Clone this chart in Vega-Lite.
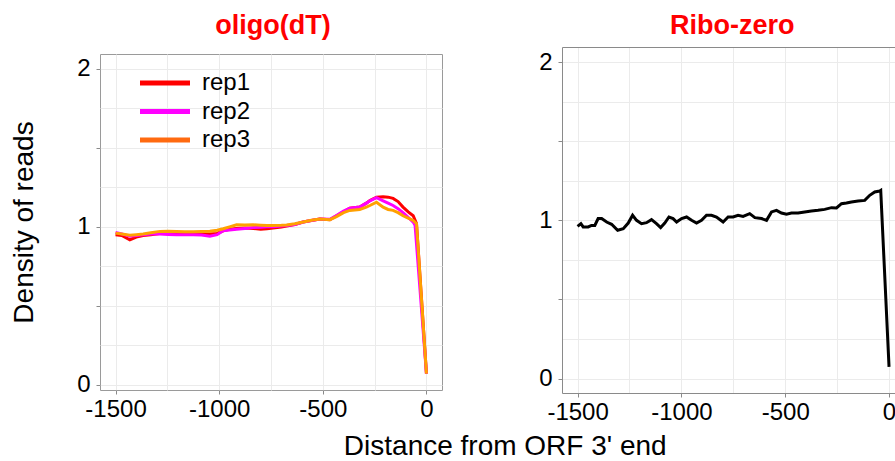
{
  "$schema": "https://vega.github.io/schema/vega-lite/v6.json",
  "background": "white",
  "padding": {"left": 10, "top": 12, "right": 0, "bottom": 0},
  "config": {
    "font": "Liberation Sans",
    "view": {"stroke": "#9a9a9a"},
    "axis": {
      "labelFont": "Liberation Sans", "labelFontSize": 24, "labelColor": "black",
      "tickColor": "#8a8a8a", "tickSize": 4, "domain": false,
      "gridColor": "#ebebeb", "gridWidth": 1, "labelPadding": 6,
      "titleFont": "Liberation Sans", "titleFontSize": 28, "titleFontWeight": "normal", "titleColor": "black"
    },
    "axisX": {"labelPadding": 3},
    "title": {"font": "Liberation Sans", "fontSize": 27, "fontWeight": "bold", "color": "#ff0000", "anchor": "middle"}
  },
  "title": {"text": "Distance from ORF 3' end", "orient": "bottom", "anchor": "middle", "fontSize": 28, "fontWeight": "normal", "color": "black", "offset": 9, "dx": 52},
  "spacing": 95,
  "datasets": {
    "oligo": [
      {"rep": "rep1", "x": -1500, "y": 0.950}, {"rep": "rep1", "x": -1470, "y": 0.945}, {"rep": "rep1", "x": -1431, "y": 0.918}, {"rep": "rep1", "x": -1400, "y": 0.935},
      {"rep": "rep1", "x": -1367, "y": 0.945}, {"rep": "rep1", "x": -1330, "y": 0.950}, {"rep": "rep1", "x": -1286, "y": 0.958}, {"rep": "rep1", "x": -1246, "y": 0.960},
      {"rep": "rep1", "x": -1206, "y": 0.958}, {"rep": "rep1", "x": -1166, "y": 0.955}, {"rep": "rep1", "x": -1126, "y": 0.958}, {"rep": "rep1", "x": -1085, "y": 0.955},
      {"rep": "rep1", "x": -1045, "y": 0.955}, {"rep": "rep1", "x": -1010, "y": 0.958}, {"rep": "rep1", "x": -981, "y": 0.975}, {"rep": "rep1", "x": -950, "y": 0.985},
      {"rep": "rep1", "x": -916, "y": 0.990}, {"rep": "rep1", "x": -876, "y": 0.992}, {"rep": "rep1", "x": -836, "y": 0.990}, {"rep": "rep1", "x": -800, "y": 0.985},
      {"rep": "rep1", "x": -770, "y": 0.988}, {"rep": "rep1", "x": -740, "y": 0.993}, {"rep": "rep1", "x": -700, "y": 0.998}, {"rep": "rep1", "x": -675, "y": 1.005},
      {"rep": "rep1", "x": -635, "y": 1.015}, {"rep": "rep1", "x": -595, "y": 1.030}, {"rep": "rep1", "x": -555, "y": 1.040}, {"rep": "rep1", "x": -514, "y": 1.049},
      {"rep": "rep1", "x": -466, "y": 1.045}, {"rep": "rep1", "x": -434, "y": 1.070}, {"rep": "rep1", "x": -400, "y": 1.095}, {"rep": "rep1", "x": -370, "y": 1.118},
      {"rep": "rep1", "x": -322, "y": 1.125}, {"rep": "rep1", "x": -290, "y": 1.150}, {"rep": "rep1", "x": -273, "y": 1.167}, {"rep": "rep1", "x": -241, "y": 1.188},
      {"rep": "rep1", "x": -209, "y": 1.190}, {"rep": "rep1", "x": -185, "y": 1.188}, {"rep": "rep1", "x": -161, "y": 1.180}, {"rep": "rep1", "x": -137, "y": 1.160},
      {"rep": "rep1", "x": -113, "y": 1.125}, {"rep": "rep1", "x": -88, "y": 1.095}, {"rep": "rep1", "x": -64, "y": 1.070}, {"rep": "rep1", "x": -48, "y": 1.020},
      {"rep": "rep1", "x": 0, "y": 0.07},
      {"rep": "rep2", "x": -1500, "y": 0.965}, {"rep": "rep2", "x": -1470, "y": 0.955}, {"rep": "rep2", "x": -1431, "y": 0.940}, {"rep": "rep2", "x": -1400, "y": 0.945},
      {"rep": "rep2", "x": -1367, "y": 0.950}, {"rep": "rep2", "x": -1330, "y": 0.955}, {"rep": "rep2", "x": -1286, "y": 0.955}, {"rep": "rep2", "x": -1246, "y": 0.952},
      {"rep": "rep2", "x": -1206, "y": 0.950}, {"rep": "rep2", "x": -1166, "y": 0.950}, {"rep": "rep2", "x": -1126, "y": 0.950}, {"rep": "rep2", "x": -1085, "y": 0.948},
      {"rep": "rep2", "x": -1045, "y": 0.940}, {"rep": "rep2", "x": -1010, "y": 0.950}, {"rep": "rep2", "x": -981, "y": 0.975}, {"rep": "rep2", "x": -950, "y": 0.980},
      {"rep": "rep2", "x": -916, "y": 0.985}, {"rep": "rep2", "x": -876, "y": 0.990}, {"rep": "rep2", "x": -836, "y": 0.995}, {"rep": "rep2", "x": -800, "y": 0.998},
      {"rep": "rep2", "x": -770, "y": 1.000}, {"rep": "rep2", "x": -740, "y": 1.000}, {"rep": "rep2", "x": -700, "y": 1.005}, {"rep": "rep2", "x": -675, "y": 1.008},
      {"rep": "rep2", "x": -635, "y": 1.015}, {"rep": "rep2", "x": -595, "y": 1.030}, {"rep": "rep2", "x": -555, "y": 1.040}, {"rep": "rep2", "x": -514, "y": 1.050},
      {"rep": "rep2", "x": -466, "y": 1.048}, {"rep": "rep2", "x": -434, "y": 1.072}, {"rep": "rep2", "x": -400, "y": 1.100}, {"rep": "rep2", "x": -370, "y": 1.118},
      {"rep": "rep2", "x": -322, "y": 1.125}, {"rep": "rep2", "x": -290, "y": 1.150}, {"rep": "rep2", "x": -273, "y": 1.165}, {"rep": "rep2", "x": -241, "y": 1.185},
      {"rep": "rep2", "x": -209, "y": 1.165}, {"rep": "rep2", "x": -185, "y": 1.150}, {"rep": "rep2", "x": -161, "y": 1.135}, {"rep": "rep2", "x": -137, "y": 1.115},
      {"rep": "rep2", "x": -113, "y": 1.090}, {"rep": "rep2", "x": -88, "y": 1.060}, {"rep": "rep2", "x": -64, "y": 1.030}, {"rep": "rep2", "x": -55, "y": 1.010},
      {"rep": "rep2", "x": 0, "y": 0.07},
      {"rep": "rep3", "x": -1500, "y": 0.960}, {"rep": "rep3", "x": -1470, "y": 0.955}, {"rep": "rep3", "x": -1431, "y": 0.946}, {"rep": "rep3", "x": -1400, "y": 0.950},
      {"rep": "rep3", "x": -1367, "y": 0.955}, {"rep": "rep3", "x": -1330, "y": 0.962}, {"rep": "rep3", "x": -1286, "y": 0.971}, {"rep": "rep3", "x": -1246, "y": 0.972},
      {"rep": "rep3", "x": -1206, "y": 0.970}, {"rep": "rep3", "x": -1166, "y": 0.968}, {"rep": "rep3", "x": -1126, "y": 0.968}, {"rep": "rep3", "x": -1085, "y": 0.970},
      {"rep": "rep3", "x": -1045, "y": 0.972}, {"rep": "rep3", "x": -1010, "y": 0.978}, {"rep": "rep3", "x": -981, "y": 0.988}, {"rep": "rep3", "x": -950, "y": 1.000},
      {"rep": "rep3", "x": -916, "y": 1.013}, {"rep": "rep3", "x": -876, "y": 1.012}, {"rep": "rep3", "x": -836, "y": 1.013}, {"rep": "rep3", "x": -800, "y": 1.010},
      {"rep": "rep3", "x": -770, "y": 1.008}, {"rep": "rep3", "x": -740, "y": 1.009}, {"rep": "rep3", "x": -700, "y": 1.010}, {"rep": "rep3", "x": -675, "y": 1.012},
      {"rep": "rep3", "x": -635, "y": 1.020}, {"rep": "rep3", "x": -595, "y": 1.030}, {"rep": "rep3", "x": -555, "y": 1.042}, {"rep": "rep3", "x": -514, "y": 1.049},
      {"rep": "rep3", "x": -466, "y": 1.045}, {"rep": "rep3", "x": -434, "y": 1.065}, {"rep": "rep3", "x": -400, "y": 1.090}, {"rep": "rep3", "x": -370, "y": 1.104},
      {"rep": "rep3", "x": -322, "y": 1.110}, {"rep": "rep3", "x": -290, "y": 1.125}, {"rep": "rep3", "x": -273, "y": 1.135}, {"rep": "rep3", "x": -241, "y": 1.156},
      {"rep": "rep3", "x": -209, "y": 1.125}, {"rep": "rep3", "x": -185, "y": 1.110}, {"rep": "rep3", "x": -161, "y": 1.104}, {"rep": "rep3", "x": -137, "y": 1.090},
      {"rep": "rep3", "x": -113, "y": 1.070}, {"rep": "rep3", "x": -88, "y": 1.055}, {"rep": "rep3", "x": -64, "y": 1.040}, {"rep": "rep3", "x": -48, "y": 1.020},
      {"rep": "rep3", "x": 0, "y": 0.07}
    ],
    "ribo": [
      {"x": -1500, "y": 0.962}, {"x": -1484, "y": 0.979}, {"x": -1473, "y": 0.958}, {"x": -1449, "y": 0.958}, {"x": -1433, "y": 0.968},
      {"x": -1417, "y": 0.968}, {"x": -1401, "y": 1.011}, {"x": -1384, "y": 1.011}, {"x": -1360, "y": 0.989}, {"x": -1336, "y": 0.975},
      {"x": -1307, "y": 0.937}, {"x": -1280, "y": 0.947}, {"x": -1256, "y": 0.983}, {"x": -1235, "y": 1.032}, {"x": -1216, "y": 1.000},
      {"x": -1192, "y": 0.979}, {"x": -1168, "y": 0.985}, {"x": -1144, "y": 1.004}, {"x": -1120, "y": 0.979}, {"x": -1100, "y": 0.954},
      {"x": -1080, "y": 0.983}, {"x": -1060, "y": 1.021}, {"x": -1040, "y": 1.011}, {"x": -1023, "y": 0.989}, {"x": -999, "y": 1.011},
      {"x": -975, "y": 1.021}, {"x": -951, "y": 1.000}, {"x": -927, "y": 0.983}, {"x": -903, "y": 1.000}, {"x": -879, "y": 1.032},
      {"x": -855, "y": 1.032}, {"x": -831, "y": 1.021}, {"x": -799, "y": 0.989}, {"x": -775, "y": 1.021}, {"x": -751, "y": 1.021},
      {"x": -727, "y": 1.032}, {"x": -703, "y": 1.025}, {"x": -671, "y": 1.042}, {"x": -646, "y": 1.017}, {"x": -614, "y": 1.011},
      {"x": -590, "y": 1.000}, {"x": -566, "y": 1.053}, {"x": -542, "y": 1.063}, {"x": -518, "y": 1.046}, {"x": -494, "y": 1.038},
      {"x": -470, "y": 1.046}, {"x": -438, "y": 1.046}, {"x": -406, "y": 1.053}, {"x": -374, "y": 1.059}, {"x": -342, "y": 1.063},
      {"x": -310, "y": 1.069}, {"x": -277, "y": 1.080}, {"x": -253, "y": 1.078}, {"x": -229, "y": 1.105}, {"x": -205, "y": 1.109},
      {"x": -181, "y": 1.116}, {"x": -149, "y": 1.122}, {"x": -117, "y": 1.126}, {"x": -93, "y": 1.158}, {"x": -69, "y": 1.179},
      {"x": -45, "y": 1.185}, {"x": -40, "y": 1.189}, {"x": 0, "y": 0.074}
    ],
    "empty": []
  },
  "hconcat": [
    {
      "spacing": 0,
      "vconcat": [
        {
          "title": {"text": "oligo(dT)", "offset": 5.7, "dx": 2},
          "width": 342,
          "height": 6.3,
          "view": {"stroke": null},
          "data": {"name": "empty"},
          "mark": {"type": "point"},
          "encoding": {}
        },
        {
          "width": 342,
          "height": 336,
          "data": {"name": "oligo"},
          "mark": {"type": "line", "strokeWidth": 3},
          "encoding": {
            "x": {
              "field": "x", "type": "quantitative",
              "scale": {"domain": [-1575, 75], "nice": false, "zero": false},
              "axis": {
                "title": null,
                "values": [-1500, -1250, -1000, -750, -500, -250, 0],
                "labelExpr": "datum.value % 500 === 0 ? '' + datum.value : ''",
                "tickOpacity": {"condition": {"test": "datum.value % 500 === 0", "value": 1}, "value": 0}
              }
            },
            "y": {
              "field": "y", "type": "quantitative",
              "scale": {"domain": [-0.034, 2.095], "nice": false, "zero": false},
              "axis": {
                "title": "Density of reads",
                "values": [0, 0.25, 0.5, 0.75, 1, 1.25, 1.5, 1.75, 2],
                "labelExpr": "datum.value % 1 === 0 ? '' + datum.value : ''",
                "tickOpacity": {"condition": {"test": "datum.value % 0.5 === 0", "value": 1}, "value": 0},
                "titlePadding": 38
              }
            },
            "color": {
              "condition": {"test": "datum.rep === 'rep3'", "value": "#ffa000"},
              "field": "rep", "type": "nominal",
              "scale": {"domain": ["rep1", "rep2", "rep3"], "range": ["#ff0000", "#ff00ff", "#ff6a10"]},
              "legend": {
                "title": null, "orient": "none", "legendX": 50, "legendY": 22,
                "symbolType": "M-2,0H2", "symbolSize": 625, "symbolStrokeWidth": 5,
                "labelFontSize": 24, "labelFont": "Liberation Sans", "labelColor": "black",
                "labelOffset": 22, "rowPadding": 1.5, "padding": 0
              }
            }
          }
        }
      ]
    },
    {
      "spacing": 0,
      "vconcat": [
        {
          "title": {"text": "Ribo-zero", "offset": 5.7, "dx": 3},
          "width": 334.3,
          "height": 1,
          "view": {"stroke": null},
          "data": {"name": "empty"},
          "mark": {"type": "point"},
          "encoding": {}
        },
        {
          "width": 334.3,
          "height": 346,
          "view": {"stroke": null},
          "data": {"name": "ribo"},
          "layer": [
            {
              "mark": {"type": "line", "color": "black", "strokeWidth": 3},
              "encoding": {
                "x": {
                  "field": "x", "type": "quantitative",
                  "scale": {"domain": [-1575, 35], "nice": false, "zero": false},
                  "axis": {
                    "title": null, "domain": true, "domainColor": "#8a8a8a",
                    "values": [-1500, -1250, -1000, -750, -500, -250, 0],
                    "labelExpr": "datum.value % 500 === 0 ? '' + datum.value : ''",
                    "tickOpacity": {"condition": {"test": "datum.value % 500 === 0", "value": 1}, "value": 0}
                  }
                },
                "y": {
                  "field": "y", "type": "quantitative",
                  "scale": {"domain": [-0.091, 2.095], "nice": false, "zero": false},
                  "axis": {
                    "title": null, "domain": true, "domainColor": "#8a8a8a",
                    "values": [0, 0.25, 0.5, 0.75, 1, 1.25, 1.5, 1.75, 2],
                    "labelExpr": "datum.value % 1 === 0 ? '' + datum.value : ''",
                    "tickOpacity": {"condition": {"test": "datum.value % 0.5 === 0", "value": 1}, "value": 0}
                  }
                }
              }
            },
            {
              "mark": {"type": "line", "opacity": 0},
              "encoding": {
                "x": {
                  "field": "x", "type": "quantitative",
                  "axis": {"orient": "top", "title": null, "labels": false, "ticks": false, "grid": false, "domain": true, "domainColor": "#8a8a8a"}
                },
                "y": {"field": "y", "type": "quantitative"}
              }
            }
          ],
          "resolve": {"axis": {"x": "independent"}}
        }
      ]
    }
  ]
}
